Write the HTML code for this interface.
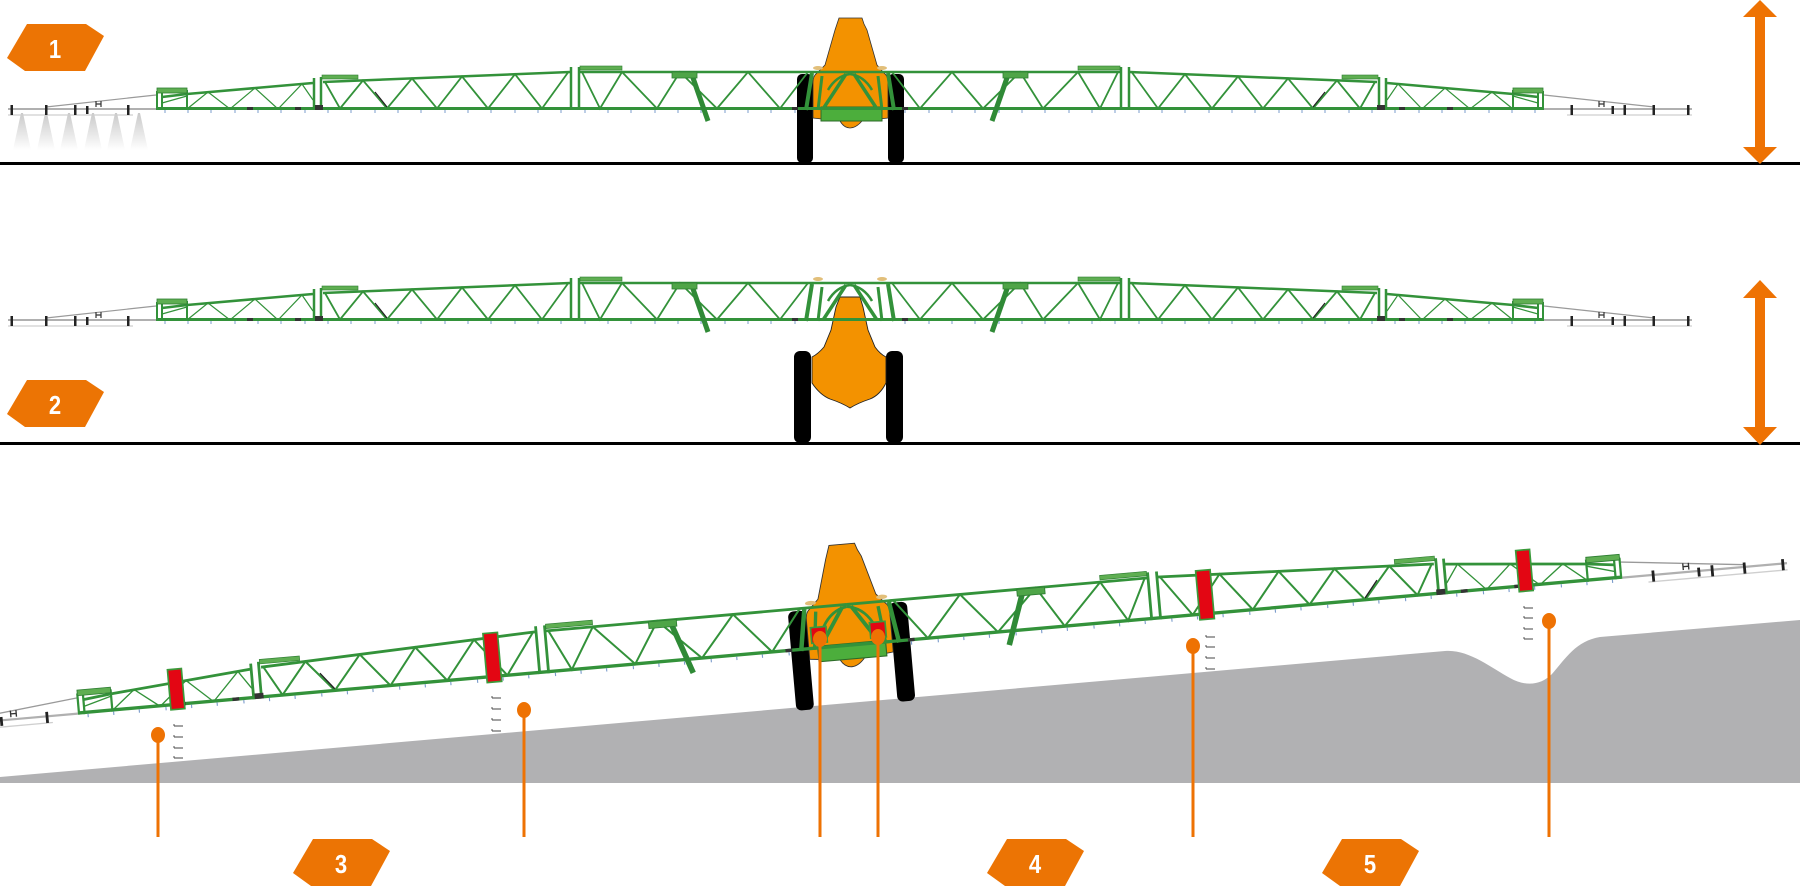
<!DOCTYPE html>
<html><head><meta charset="utf-8">
<style>html,body{margin:0;padding:0;background:#fff;}svg{display:block}</style>
</head>
<body>
<svg width="1800" height="888" viewBox="0 0 1800 888" xmlns="http://www.w3.org/2000/svg">
<defs>
<linearGradient id="cone" x1="0" y1="0" x2="0" y2="1"><stop offset="0" stop-color="#c9c9c9"/><stop offset="1" stop-color="#ffffff"/></linearGradient>
<g id="half">
  <line x1="8" y1="115" x2="133" y2="115" stroke="#cfcfcf" stroke-width="1.2"/>
  <line x1="8" y1="109" x2="156" y2="109" stroke="#b0b0b0" stroke-width="2"/>
  <line x1="46" y1="107" x2="156" y2="95" stroke="#9a9a9a" stroke-width="1.2"/>
  <g fill="#222">
    <rect x="10.5" y="105" width="2.5" height="10"/>
    <rect x="45" y="105" width="2.5" height="10"/>
    <rect x="74" y="105" width="2.5" height="10"/>
    <rect x="86" y="106" width="2.5" height="8"/>
    <rect x="127" y="105" width="2.5" height="10"/>
  </g>
  <path d="M96 101v6M101 101v6M96 104h5" stroke="#333" stroke-width="1.2" fill="none"/>
  <g stroke="#33923a" fill="none">
    <path d="M157 91V110M162 93V110M187 90V110" stroke-width="2"/>
    <path d="M162 97L187 94L313 83" stroke-width="2.5"/>
    <path d="M157 108.5H850" stroke-width="3"/>
    <path d="M162 103L187 96M187 109L208 92L230 109L255 88L278 109L302 84L313 100" stroke-width="1.2"/>
    <path d="M314 78V110M321 77V110" stroke-width="2.5"/>
    <path d="M323 82L570 72" stroke-width="2.5"/>
    <path d="M325 82L340 108.5L363 80.4L387 108.5L412 78.4L437 108.5L462 76.4L488 108.5L515 74.2L542 108.5L568 72.5" stroke-width="1.8"/>
    <path d="M571 67V110M579 67V110" stroke-width="2.5"/>
    <path d="M579 72H850" stroke-width="2.5"/>
    <path d="M582 72L600 108.5L622 72L657 108.5L680 72L717 108.5L748 72L780 108.5L808 72" stroke-width="1.8"/>
    <path d="M692 75L708 121" stroke-width="5" stroke="#2f8a36"/>
    <path d="M812 73L806 110" stroke-width="4"/>
    <path d="M822 76L818 110" stroke-width="3"/>
    <path d="M823 109L846 74" stroke-width="3.5"/>
    <path d="M828 90Q836 76 850 74" stroke-width="2.5"/>
  </g>
  <path d="M375 92L387 107" stroke="#222" stroke-width="1.2"/>
  <rect x="157" y="88" width="30" height="5" fill="#5fae52" stroke="#2f7f33" stroke-width="0.8"/>
  <rect x="322" y="75" width="36" height="4" fill="#5fae52" stroke="#2f7f33" stroke-width="0.6"/>
  <rect x="580" y="66" width="42" height="4" fill="#5fae52" stroke="#2f7f33" stroke-width="0.6"/>
  <rect x="672" y="72" width="25" height="6" fill="#4fa548" stroke="#2f7f33" stroke-width="0.8"/>
  <ellipse cx="818" cy="68" rx="5" ry="2" fill="#e2bf7a"/>
  <g fill="#333">
    <rect x="247" y="107" width="6" height="3"/>
    <rect x="295" y="107" width="6" height="3"/>
    <rect x="315" y="105" width="8" height="5"/>
    <rect x="792" y="107" width="6" height="3"/>
  </g>
  <path d="M165 110v3M188 110v3M211 110v3M235 110v3M258 110v3M281 110v3M305 110v3M328 110v3M351 110v3M375 110v3M398 110v3M421 110v3M445 110v3M468 110v3M491 110v3M515 110v3M538 110v3M561 110v3M585 110v3M608 110v3M631 110v3M655 110v3M678 110v3M701 110v3M725 110v3M748 110v3M771 110v3M795 110v3" stroke="#7b9ccc" stroke-width="1"/>
</g>
<g id="boom"><use href="#half"/><use href="#half" transform="translate(1700,0) scale(-1,1)"/></g>
<g id="p1core">
  <rect x="797" y="74" width="16" height="89" rx="5" fill="#000"/>
  <rect x="888" y="74" width="16" height="89" rx="5" fill="#000"/>
  <path d="M839 18L862 18L864 24L867 30L877 65L884 73Q888 76 888 82L888 118L862 121Q856 128 850 128Q844 128 840 121L813 118L813 82Q813 76 817 73L825 65L835 30L837 24Z" fill="#f39200" stroke="#333" stroke-width="0.8"/>
  <rect x="821" y="107" width="61" height="14" fill="#4cae3c" stroke="#2c6a28" stroke-width="1"/>
  <use href="#boom"/>
</g>
<polygon id="badge" points="20,0 79,0 97,12 78,47 18,47 0,34" fill="#ec7404"/>
</defs>

<!-- Panel 1 -->
<g fill="url(#cone)">
  <polygon points="21,113 23,113 31,150 13,150"/>
  <polygon points="45,113 47,113 55,150 37,150"/>
  <polygon points="68,113 70,113 78,150 60,150"/>
  <polygon points="92,113 94,113 102,150 84,150"/>
  <polygon points="115,113 117,113 125,150 107,150"/>
  <polygon points="138,113 140,113 148,150 130,150"/>
</g>
<use href="#p1core"/>
<rect x="0" y="162" width="1800" height="3" fill="#000"/>
<polygon points="1760,0 1777,17 1765,17 1765,147 1777,147 1760,164 1743,147 1755,147 1755,17 1743,17" fill="#ee7203"/>

<!-- Panel 2 -->
<rect x="794" y="351" width="17" height="92" rx="6" fill="#000"/>
<rect x="886" y="351" width="17" height="92" rx="6" fill="#000"/>
<path d="M840 297L860 297L863 307L868 330L875 347Q880 354 886 357L886 383Q880 395 870 399Q858 403 850 408Q842 403 830 399Q820 395 812 383L812 357Q818 354 824 347L831 330L836 307Z" fill="#f39200" stroke="#222" stroke-width="0.9"/>
<use href="#boom" transform="translate(0,211)"/>
<rect x="0" y="442" width="1800" height="3" fill="#000"/>
<polygon points="1760,280 1777,298 1765,298 1765,427 1777,427 1760,445 1743,427 1755,427 1755,298 1743,298" fill="#ee7203"/>

<!-- Panel 3 -->
<path d="M0 777L1445 651C1468 649 1490 667 1510 678C1526 687 1541 685 1552 674C1566 658 1576 641 1600 637L1800 620L1800 783L0 783Z" fill="#b1b1b3"/>
<g transform="translate(850,644.5) rotate(-5.03) scale(1.117) translate(-850,-108)">
  <use href="#p1core"/>
  <g fill="#e30613" stroke="#3a9a3a" stroke-width="1.5">
    <rect x="239.3" y="77" width="12.5" height="36"/>
    <rect x="523.5" y="69.5" width="13" height="44"/>
    <rect x="1164" y="69.5" width="13" height="44"/>
    <rect x="1451" y="76.5" width="12.5" height="37"/>
    <rect x="816" y="90" width="14" height="14"/>
    <rect x="869" y="90" width="14" height="14"/>
  </g>
</g>
<path d="M174 726h9M174 726v-2M174 737h9M174 737v-2M174 748h9M174 748v-2M174 758h9M174 758v-2M492 698h9M492 698v-2M492 709h9M492 709v-2M492 720h9M492 720v-2M492 731h9M492 731v-2M1206 637h9M1206 637v-2M1206 647h9M1206 647v-2M1206 658h9M1206 658v-2M1206 669h9M1206 669v-2M1524 608h9M1524 608v-2M1524 618h9M1524 618v-2M1524 629h9M1524 629v-2M1524 639h9M1524 639v-2" stroke="#444" stroke-width="0.9" fill="none"/>
<g stroke="#ee7203" stroke-width="3">
  <line x1="158" y1="735" x2="158" y2="837"/>
  <line x1="524" y1="710" x2="524" y2="837"/>
  <line x1="820" y1="639" x2="820" y2="837"/>
  <line x1="878" y1="637" x2="878" y2="837"/>
  <line x1="1193" y1="646" x2="1193" y2="837"/>
  <line x1="1549" y1="621" x2="1549" y2="837"/>
</g>
<g fill="#ee7203">
  <ellipse cx="158" cy="735" rx="7" ry="8"/>
  <ellipse cx="524" cy="710" rx="7" ry="8"/>
  <ellipse cx="820" cy="639" rx="7" ry="8"/>
  <ellipse cx="878" cy="637" rx="7" ry="8"/>
  <ellipse cx="1193" cy="646" rx="7" ry="8"/>
  <ellipse cx="1549" cy="621" rx="7" ry="8"/>
</g>

<!-- Badges -->
<g font-family="Liberation Sans, Arial, sans-serif" font-weight="bold" font-size="26" fill="#fff" text-anchor="middle">
  <g transform="translate(7,24)"><use href="#badge"/><text transform="translate(48,34) scale(0.85,1)">1</text></g>
  <g transform="translate(7,380)"><use href="#badge"/><text transform="translate(48,34) scale(0.85,1)">2</text></g>
  <g transform="translate(293,839)"><use href="#badge"/><text transform="translate(48,34) scale(0.85,1)">3</text></g>
  <g transform="translate(987,839)"><use href="#badge"/><text transform="translate(48,34) scale(0.85,1)">4</text></g>
  <g transform="translate(1322,839)"><use href="#badge"/><text transform="translate(48,34) scale(0.85,1)">5</text></g>
</g>
</svg>
</body></html>
